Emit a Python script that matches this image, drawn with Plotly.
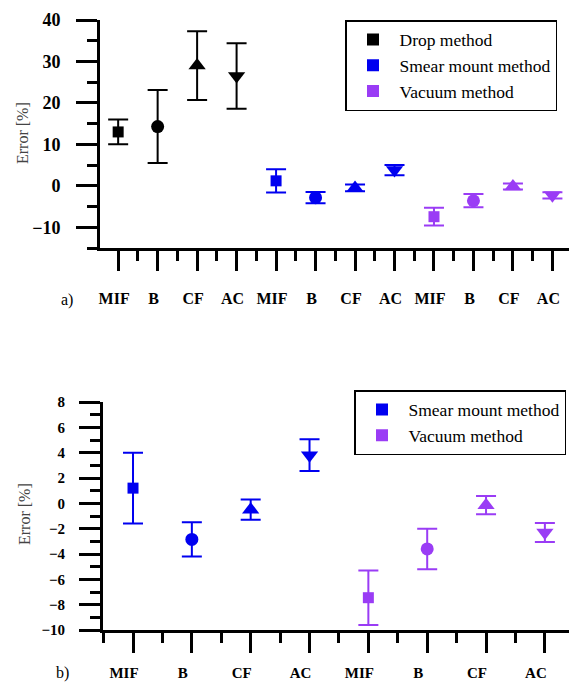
import plotly.graph_objects as go

# ---------------- data ----------------
cats = ["MIF", "B", "CF", "AC"]
symbols = ["square", "circle", "triangle-up", "triangle-down"]
sizes = [11, 13, 15, 15]

drop_vals = [13.0, 14.3, 29.0, 26.5]
drop_err = [3.0, 8.8, 8.3, 7.9]

smear_vals = [1.2, -2.85, -0.5, 3.8]
smear_err = [2.8, 1.35, 0.8, 1.25]

vac_vals = [-7.45, -3.6, -0.15, -2.3]
vac_err = [2.15, 1.6, 0.72, 0.75]

series_a = [("Drop method", drop_vals, drop_err, "#000000"),
            ("Smear mount method", smear_vals, smear_err, "#0000F0"),
            ("Vacuum method", vac_vals, vac_err, "#9A3CF5")]
series_b = series_a[1:]

SERIF = "Liberation Serif"
W, H = 569, 687
fig = go.Figure()

def add_series(series, xa, ya, legend, start=1):
    pos = start
    for name, vals, errs, col in series:
        xs = list(range(pos, pos + len(vals)))
        fig.add_trace(go.Scatter(
            x=xs, y=vals, mode="markers", name=name,
            xaxis=xa, yaxis=ya, legend=legend,
            marker=dict(symbol=symbols, size=sizes, color=col, opacity=1,
                        line=dict(width=0)),
            error_y=dict(type="data", array=errs, visible=True, color=col,
                         thickness=2, width=10),
        ))
        pos += len(vals)

add_series(series_a, "x", "y", "legend")
add_series(series_b, "x2", "y2", "legend2")

ticks_a = list(range(1, 13))
labels_a = cats * 3
ticks_b = list(range(1, 9))
labels_b = cats * 2

axis_common = dict(showline=True, linewidth=3, linecolor="black", ticks="outside",
                   tickwidth=3, tickcolor="black", showgrid=False, zeroline=False,
                   mirror=False)
xfont_a = dict(family=SERIF, size=16, color="black", weight="bold")
xfont_b = dict(family=SERIF, size=15, color="black", weight="bold")

fig.update_layout(
    width=W, height=H, margin=dict(l=0, r=0, t=0, b=0, autoexpand=False),
    font=dict(family=SERIF, color="black"),
    paper_bgcolor="white", plot_bgcolor="white", showlegend=True,
    xaxis=dict(domain=[100 / W, 1], range=[0.54, 12.42], anchor="y",
               tickmode="array", tickvals=ticks_a, ticktext=labels_a,
               ticklen=20, ticklabelstandoff=14, ticklabelshift=-4, tickfont=xfont_a,
               minor=dict(tickmode="linear", tick0=0.5, dtick=1, ticklen=10,
                          tickwidth=3, tickcolor="black", ticks="outside"),
               **axis_common),
    yaxis=dict(domain=[1 - 248 / H, 1 - 20 / H], range=[-15, 40], anchor="x",
               tickmode="linear", tick0=-10, dtick=10, ticklen=21,
               ticklabelstandoff=12,
               tickfont=dict(family=SERIF, size=18, color="black", weight="bold"),
               minor=dict(tickmode="linear", tick0=-15, dtick=5, ticklen=10,
                          tickwidth=3, tickcolor="black", ticks="outside"),
               **axis_common),
    xaxis2=dict(domain=[103 / W, 1], range=[0.49, 8.41], anchor="y2",
                tickmode="array", tickvals=ticks_b, ticktext=labels_b,
                ticklen=20, ticklabelstandoff=7, ticklabelshift=-9, tickfont=xfont_b,
                minor=dict(tickmode="linear", tick0=0.5, dtick=1, ticklen=10,
                           tickwidth=3, tickcolor="black", ticks="outside"),
                **axis_common),
    yaxis2=dict(domain=[1 - 630 / H, 1 - 402 / H], range=[-10, 8], anchor="x2",
                tickmode="linear", tick0=-10, dtick=2, ticklen=21,
                ticklabelstandoff=11,
                tickfont=dict(family=SERIF, size=15, color="black", weight="bold"),
                minor=dict(tickmode="linear", tick0=-10, dtick=1, ticklen=10,
                           tickwidth=3, tickcolor="black", ticks="outside"),
                **axis_common),
    legend=dict(x=345 / W, y=1 - 20 / H, xanchor="left", yanchor="top",
                bordercolor="black", borderwidth=1.5, bgcolor="white",
                font=dict(family=SERIF, size=17.5, color="black"),
                itemsizing="constant", tracegroupgap=0, itemwidth=43),
    legend2=dict(x=354 / W, y=1 - 390 / H, xanchor="left", yanchor="top",
                 bordercolor="black", borderwidth=1.5, bgcolor="white",
                 font=dict(family=SERIF, size=17.5, color="black"),
                 itemsizing="constant", tracegroupgap=0, itemwidth=43),
    annotations=[
        dict(text="Error [%]", x=22 / W, y=1 - 133 / H, xref="paper", yref="paper",
             xanchor="center", yanchor="middle",
             showarrow=False, textangle=-90,
             font=dict(family=SERIF, size=16, color="#444444")),
        dict(text="Error [%]", x=24 / W, y=1 - 514 / H, xref="paper", yref="paper",
             xanchor="center", yanchor="middle",
             showarrow=False, textangle=-90,
             font=dict(family=SERIF, size=16, color="#444444")),
        dict(text="a)", x=67 / W, y=1 - 300 / H, xref="paper", yref="paper",
             xanchor="center", yanchor="middle",
             showarrow=False, font=dict(family=SERIF, size=16, color="black")),
        dict(text="b)", x=62 / W, y=1 - 673 / H, xref="paper", yref="paper",
             xanchor="center", yanchor="middle",
             showarrow=False, font=dict(family=SERIF, size=16, color="black")),
    ],
)

fig.write_html("out.html")
